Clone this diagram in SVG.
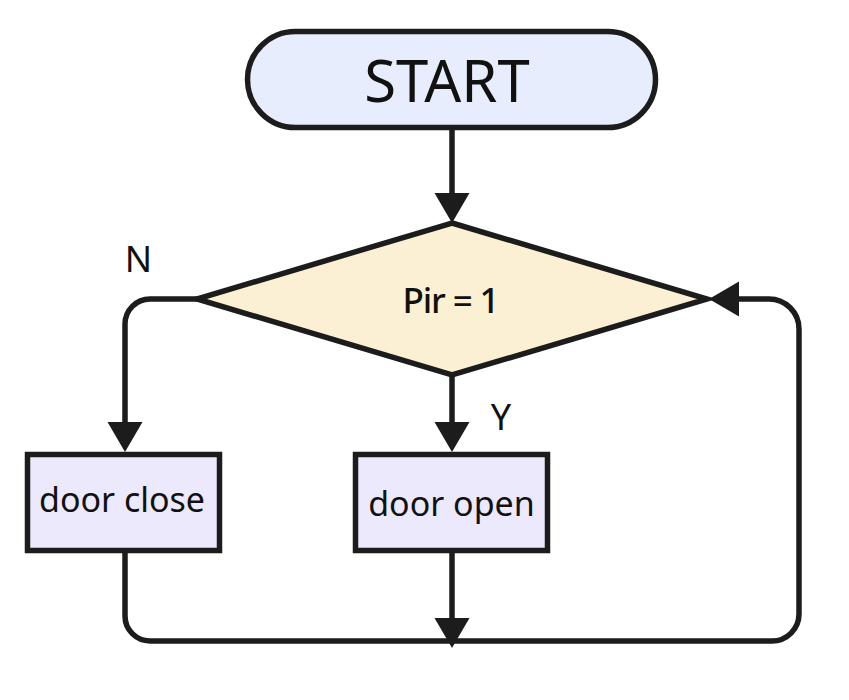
<svg xmlns="http://www.w3.org/2000/svg" width="849" height="700" viewBox="0 0 849 700">
<defs>
<style>
.shape{stroke:#1c1c1c;stroke-width:5.5;}
.edge{fill:none;stroke:#1c1c1c;stroke-width:5.5;}
.t{font-family:"Noto Sans","Open Sans","DejaVu Sans",sans-serif;fill:#111;text-anchor:middle;}
</style>
<marker id="arr" markerUnits="userSpaceOnUse" markerWidth="32" markerHeight="36" refX="0" refY="17.5" orient="auto" viewBox="0 0 32 36">
<path d="M0,0 L30,17.5 L0,35 Z" fill="#1c1c1c"/>
</marker>
</defs>
<rect width="849" height="700" fill="#ffffff"/>
<g id="connectors">
<path class="edge" d="M452,130 V193" marker-end="url(#arr)"/>
<path class="edge" d="M197,299 H150 A25,25 0 0 0 125,324 V422" marker-end="url(#arr)"/>
<path class="edge" d="M452,375 V422" marker-end="url(#arr)"/>
<path class="edge" d="M452,553 V618" marker-end="url(#arr)"/>
<path class="edge" d="M125,553 V616 A25,25 0 0 0 150,641 H772 A27,27 0 0 0 799,614 V329 A30,30 0 0 0 769,299 H739" marker-end="url(#arr)"/>
</g>
<g id="start">
<rect class="shape" x="247.5" y="31.5" width="408" height="96" rx="48" ry="48" fill="#e7edfd"/>
<text class="t" x="447" y="102" font-size="58">START</text>
</g>
<g id="decision">
<polygon class="shape" points="452,223 707,299 452,375 197,299" fill="#fbf0d3" stroke-linejoin="miter"/>
<text class="t" x="451" y="313" font-size="35" font-weight="500" textLength="97">Pir = 1</text>
</g>
<g id="doorClose">
<rect class="shape" x="27.5" y="454.5" width="192" height="96" fill="#ede9fd"/>
<text class="t" x="122" y="512" font-size="34">door close</text>
</g>
<g id="doorOpen">
<rect class="shape" x="355.5" y="454.5" width="192" height="96" fill="#ede9fd"/>
<text class="t" x="451.5" y="516" font-size="34">door open</text>
</g>
<g id="labels">
<text class="t" x="138.5" y="272" font-size="36">N</text>
<text class="t" x="501" y="430" font-size="36">Y</text>
</g>
</svg>
